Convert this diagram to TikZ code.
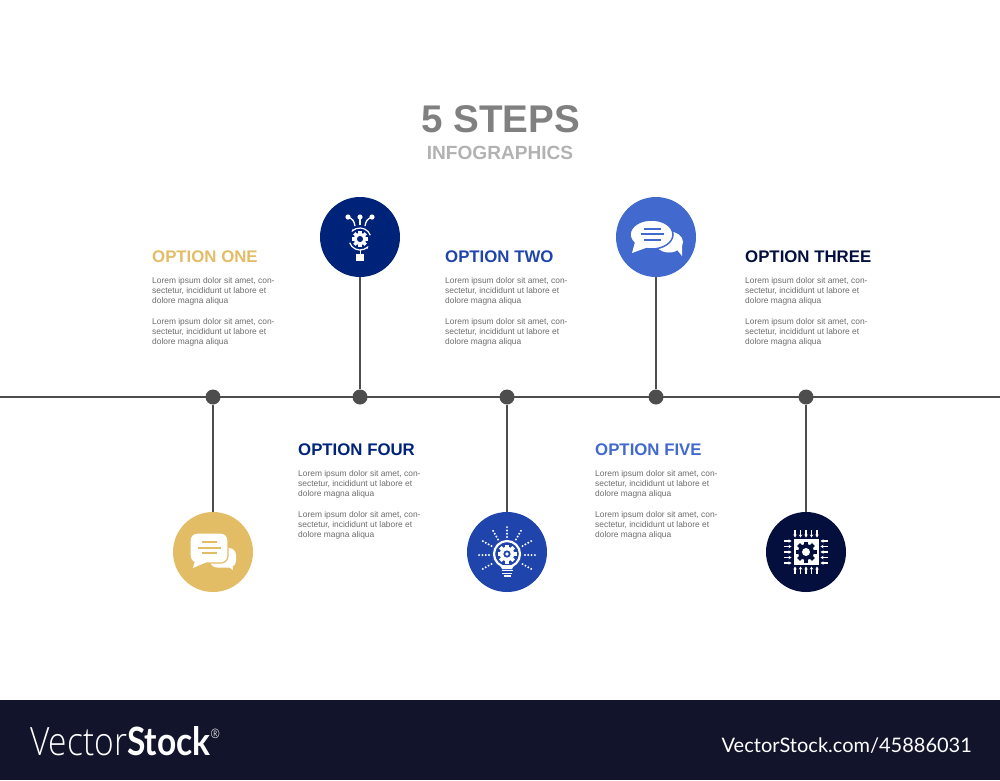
\documentclass[tikz,border=0pt]{standalone}
\usepackage{fontspec}
\setmainfont{Liberation Sans}
\newfontfamily\logofont{Lato}
\newfontfamily\logothin{Open Sans Light}
\usetikzlibrary{arrows.meta}
\definecolor{optyellow}{HTML}{E3BC66}
\definecolor{optnavy}{HTML}{00237A}
\definecolor{optroyal}{HTML}{1F45AC}
\definecolor{optblue}{HTML}{4169CE}
\definecolor{optdark}{HTML}{050F3D}
\definecolor{bandcol}{HTML}{11142A}
\definecolor{linecol}{HTML}{4D4D4D}
\newcommand{\loremtext}{Lorem ipsum dolor sit amet, con-\\sectetur, incididunt ut labore et\\dolore magna aliqua\\[10.5pt]Lorem ipsum dolor sit amet, con-\\sectetur, incididunt ut labore et\\dolore magna aliqua}
\tikzset{
  iconcirc/.style={circle, inner sep=0pt, minimum size=80pt, fill=#1},
  stepdot/.style={circle, inner sep=0pt, minimum size=15pt, fill=linecol},
  optlabel/.style={anchor=west, inner sep=0pt, font=\bfseries\fontsize{16.8}{18}\selectfont, text=#1},
  optbody/.style={anchor=north west, inner sep=0pt, align=left, text=black!58, font=\fontsize{8.4}{10}\selectfont},
  pics/gearicon/.style n args={3}{code={
    \foreach \a in {0,45,...,315}
      \fill[#2, rotate=\a] ({-.2*#1},{-#1}) rectangle ({.2*#1},0);
    \fill[#2] (0,0) circle ({.76*#1});
    \fill[#3] (0,0) circle ({.38*#1});
  }},
  pics/chaticon/.style={code={
    \fill[white, rounded corners=7pt] (-3,-4) rectangle (23,15.5);
    \fill[white] (13,13) -- (20,18) -- (19,9) -- cycle;
    \draw[optyellow, line width=1.2pt, fill=white, rounded corners=7pt] (-23,-19) rectangle (15,11);
    \fill[white] (-17,5) -- (-20,16) -- (-7,10.4) -- cycle;
    \draw[optyellow, line width=1.2pt] (-11,-10) -- (4,-10) (-15,-4) -- (8,-4) (-11,1) -- (4,1);
  }},
  pics/ovalchat/.style={code={
    \fill[white] (13,5) ellipse (14 and 10.5);
    \fill[white] (18,9) -- (26,19) -- (26,5) -- cycle;
    \draw[optblue, line width=1.5pt, fill=white] (-4.5,-2.5) ellipse (21.5 and 14.5);
    \fill[white] (-21,5) -- (-24,16) -- (-9,10.5) -- cycle;
    \draw[optblue, line width=1.3pt] (-12,-8) -- (5,-8) (-15,-3) -- (8,-3) (-12,3) -- (5,3);
  }},
  pics/networkicon/.style={code={
    \foreach \x in {-12,0,12}
      \fill[white] (\x,-20) circle (2.6);
    \draw[white, line width=1.3pt] (-12,-20) .. controls (-7,-18) and (-6,-16) .. (-5,-11);
    \draw[white, line width=1.3pt] (0,-20) -- (0,-12);
    \draw[white, line width=1.3pt] (12,-20) .. controls (7,-18) and (6,-16) .. (5,-11);
    \pic at (0,2) {gearicon={8}{white}{optnavy}};
    \draw[white, line width=1.2pt, -{Stealth[length=3pt]}] (0,2) ++(160:11) arc[start angle=160, end angle=40, radius=11];
    \draw[white, line width=1.2pt, -{Stealth[length=3pt]}] (0,2) ++(-20:11) arc[start angle=-20, end angle=-140, radius=11];
    \draw[white, line width=1pt] (0,13) -- (0,17);
    \fill[white] (-3.7,16.5) rectangle (3.7,24);
  }},
  pics/bulbicon/.style={code={
    \foreach \a in {0,30,-30,-60,-90,-120,-150,180,150}
      \foreach \r in {18,21.3,24.6,27.9}
        \fill[white] (0,3) ++(\a:\r) circle (1.1);
    \draw[white, line width=2.2pt] (0,2) circle (13);
    \pic at (0,2) {gearicon={9.5}{white}{optroyal}};
    \fill[white] (0,2) circle (1.8);
    \fill[white] (-7,13) -- (7,13) -- (5,17) -- (-5,17) -- cycle;
    \draw[white, line width=1.5pt] (-5.5,18.7) -- (5.5,18.7) (-5,21.4) -- (5,21.4) (-3.5,24) -- (3.5,24);
  }},
  pics/chipicon/.style={code={
    \foreach \a in {0,90,180,270}
      \foreach \p in {-11,-5.5,0,5.5,11}
        \draw[white, line width=1.2pt, rotate=\a, -{Stealth[length=3pt,width=3.4pt]}] (\p,-22) -- (\p,-14.5);
    \fill[white] (-12.5,-13) rectangle (12.5,13);
    \pic at (0,0) {gearicon={10.5}{optdark}{white}};
  }},
}
\begin{document}
\begin{tikzpicture}[x=1pt, y=-1pt]
  \useasboundingbox (0,0) rectangle (1000,780);
  \fill[bandcol] (0,700) rectangle (1000,780);
  % heading
  \node[inner sep=0pt, text=black!50, font=\bfseries\fontsize{38.6}{40}\selectfont] (title) at (500.5,119) {5 STEPS};
  \node[inner sep=0pt, text=black!30, font=\bfseries\fontsize{19.1}{21}\selectfont] (subtitle) at (500,153) {INFOGRAPHICS};
  % time line
  \coordinate (lineleft) at (0,397);
  \coordinate (lineright) at (1000,397);
  \draw[linecol, line width=2.5pt] (lineleft) -- (lineright);
  \node[stepdot] (dot1) at (213,397) {};
  \node[stepdot] (dot2) at (360,397) {};
  \node[stepdot] (dot3) at (507,397) {};
  \node[stepdot] (dot4) at (656,397) {};
  \node[stepdot] (dot5) at (806,397) {};
  \node[iconcirc=optyellow] (icon1) at (213,552) {};
  \node[iconcirc=optnavy] (icon2) at (360,237) {};
  \node[iconcirc=optroyal] (icon3) at (507,552) {};
  \node[iconcirc=optblue] (icon4) at (656,237) {};
  \node[iconcirc=optdark] (icon5) at (806,552) {};
  \foreach \i in {1,...,5}
    \draw[linecol, line width=2.5pt] (dot\i) -- (icon\i);
  % icons
  \pic at (icon1) {chaticon};
  \pic at (icon2) {networkicon};
  \pic at (icon3) {bulbicon};
  \pic at (icon4) {ovalchat};
  \pic at (icon5) {chipicon};
  % option texts
  \foreach \name/\x/\y/\col/\txt in {one/152/257/optyellow/OPTION ONE, two/445/257/optroyal/OPTION TWO, three/745/257/optdark/OPTION THREE, four/298/450/optnavy/OPTION FOUR, five/595/450/optblue/OPTION FIVE}
  {
    \node[optlabel=\col] (head\name) at (\x,\y) {\txt};
    \node[optbody] (body\name) at (\x,\y+20.5) {\loremtext};
  }
  % footer
  \node[anchor=west, inner sep=0pt, text=white, transform shape, xscale=.86, font=\fontsize{39}{40}\selectfont] (logo) at (30,741) {\logothin Vector\logofont\bfseries Stock\raisebox{17pt}{\mdseries\logothin\fontsize{13}{13}\selectfont\textregistered}};
  \node[anchor=east, inner sep=0pt, text=white, font=\logofont\fontsize{20}{22}\selectfont] (stockid) at (972,746) {VectorStock.com/45886031};
\end{tikzpicture}
\end{document}
